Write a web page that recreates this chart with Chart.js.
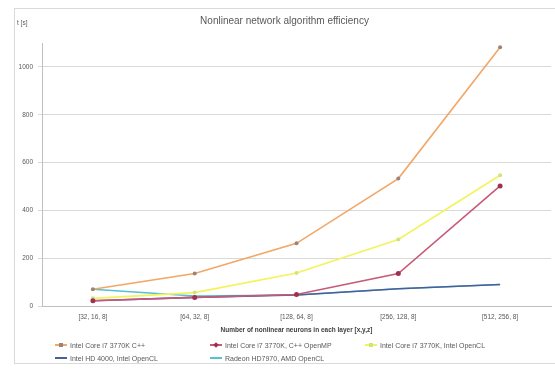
<!DOCTYPE html>
<html>
<head>
<meta charset="utf-8">
<script src="https://cdn.jsdelivr.net/npm/chart.js@4"></script>
<style>
  html, body { margin: 0; padding: 0; background: #fff; }
  #wrap { position: relative; width: 555px; height: 372px; overflow: hidden;
          font-family: 'Liberation Sans', Arial, sans-serif; }
  #frame { position: absolute; left: 14px; top: 8px; width: 560px; height: 356px;
           border: 1px solid #d9d9d9; box-sizing: border-box; }
  #c { position: absolute; left: 0; top: 0; }
  #yunit { position: absolute; left: 17px; top: 19px; font-size: 6.5px; color: #595959; }
  .lg { position: absolute; font-size: 7px; color: #595959; white-space: nowrap;
        display: flex; align-items: center; height: 10px; }
  .lg .sw { position: relative; width: 12px; height: 10px; margin-right: 3px; }
  .lg .sw i { position: absolute; left: 0; right: 0; top: 4px; height: 1.5px; }
  .lg .sw b { position: absolute; left: 4px; top: 3px; width: 4px; height: 4px; }
</style>
</head>
<body>
<div id="wrap">
  <div id="frame"></div>
  <canvas id="c" width="555" height="372"></canvas>
  <div id="yunit">t [s]</div>
  <div id="legend"></div>
</div>
<script>
'use strict';

// ── Data ──────────────────────────────────────────────
const categories = ['[32, 16, 8]', '[64, 32, 8]', '[128, 64, 8]', '[256, 128, 8]', '[512, 256, 8]'];

const cppSerial  = [70, 136, 262, 533, 1082];   // Intel Core i7 3770K C++
const cppOpenMP  = [22, 36, 48, 136, 502];      // Intel Core i7 3770K, C++ OpenMP
const cpuOpenCL  = [32, 56, 138, 278, 547];     // Intel Core i7 3770K, Intel OpenCL
const hdOpenCL   = [22, 36, 46, 72, 90];        // Intel HD 4000, Intel OpenCL
const amdOpenCL  = [70, 42, 46, 72, 90];        // Radeon HD7970, AMD OpenCL

const seriesNames = [
  'Intel Core i7 3770K C++',
  'Intel Core i7 3770K, C++ OpenMP',
  'Intel Core i7 3770K, Intel OpenCL',
  'Intel HD 4000, Intel OpenCL',
  'Radeon HD7970, AMD OpenCL',
];

const yTicks = [0, 200, 400, 600, 800, 1000];

// ── Styles ────────────────────────────────────────────
const colors   = ['#f2a766', '#c75a78', '#f3f35c', '#4a5f98', '#55c2d2'];
const ptColors = ['#9a8478', '#a0304f', '#cfe47a', '#4a5f98', '#55c2d2'];
const ptSizes  = [2, 2.5, 2, 0, 0];

const seriesData = [cppSerial, cppOpenMP, cpuOpenCL, hdOpenCL, amdOpenCL];

// Chart.js paints dataset 0 last, so the first series ends on top
const datasets = seriesData.map((data, i) => ({
  label: seriesNames[i],
  data,
  borderColor: colors[i],
  backgroundColor: colors[i],
  borderWidth: 1.6,
  pointRadius: ptSizes[i],
  pointBackgroundColor: ptColors[i],
  pointBorderColor: ptColors[i],
  pointBorderWidth: 0,
  tension: 0,
}));

const FONT = "'Liberation Sans', Arial, sans-serif";

new Chart(document.getElementById('c'), {
  type: 'line',
  data: { labels: categories, datasets },
  options: {
    responsive: false,
    animation: false,
    layout: { padding: { left: 14, right: 0, top: 0, bottom: 38 } },
    plugins: {
      legend: { display: false },
      tooltip: { enabled: false },
      title: {
        display: true,
        text: 'Nonlinear network algorithm efficiency',
        color: '#595959',
        font: { family: FONT, size: 10, weight: 'normal' },
        padding: { top: 15, bottom: 16 },
      },
    },
    scales: {
      x: {
        offset: true,
        grid: { display: false, drawTicks: true, tickLength: 4 },
        border: { color: '#bfbfbf' },
        ticks: { color: '#595959', font: { family: FONT, size: 6.5 }, padding: 3,
                 maxRotation: 0, autoSkip: false },
        title: {
          display: true,
          text: 'Number of nonlinear neurons in each layer [x,y,z]',
          color: '#404040',
          font: { family: FONT, size: 6.5, weight: 'bold' },
          padding: { top: 0, bottom: 0 },
        },
        afterFit: s => { s.height = 28; },
      },
      y: {
        min: 0,
        max: 1100,
        grid: { color: '#d9d9d9', tickLength: 4 },
        border: { color: '#bfbfbf' },
        ticks: { stepSize: 200, color: '#595959', font: { family: FONT, size: 6.5 }, padding: 5,
                 callback: v => String(v) },
        afterBuildTicks: s => { s.ticks = yTicks.map(v => ({ value: v })); },
        afterFit: s => { s.width = 28; },
      },
    },
  },
});

// ── HTML legend ───────────────────────────────────────
const legendPos = [[55, 340], [210, 340], [365, 340], [55, 353], [210, 353]];
const legendEl = document.getElementById('legend');
seriesNames.forEach((name, i) => {
  const item = document.createElement('div');
  item.className = 'lg';
  item.style.left = legendPos[i][0] + 'px';
  item.style.top  = legendPos[i][1] + 'px';
  const sw = document.createElement('span');
  sw.className = 'sw';
  const line = document.createElement('i');
  line.style.background = colors[i];
  sw.appendChild(line);
  if (ptSizes[i] > 0) {
    const mk = document.createElement('b');
    mk.style.background = ptColors[i];
    if (i === 1) mk.style.transform = 'rotate(45deg)';
    sw.appendChild(mk);
  }
  const txt = document.createElement('span');
  txt.textContent = name;
  item.appendChild(sw);
  item.appendChild(txt);
  legendEl.appendChild(item);
});
</script>
</body>
</html>
